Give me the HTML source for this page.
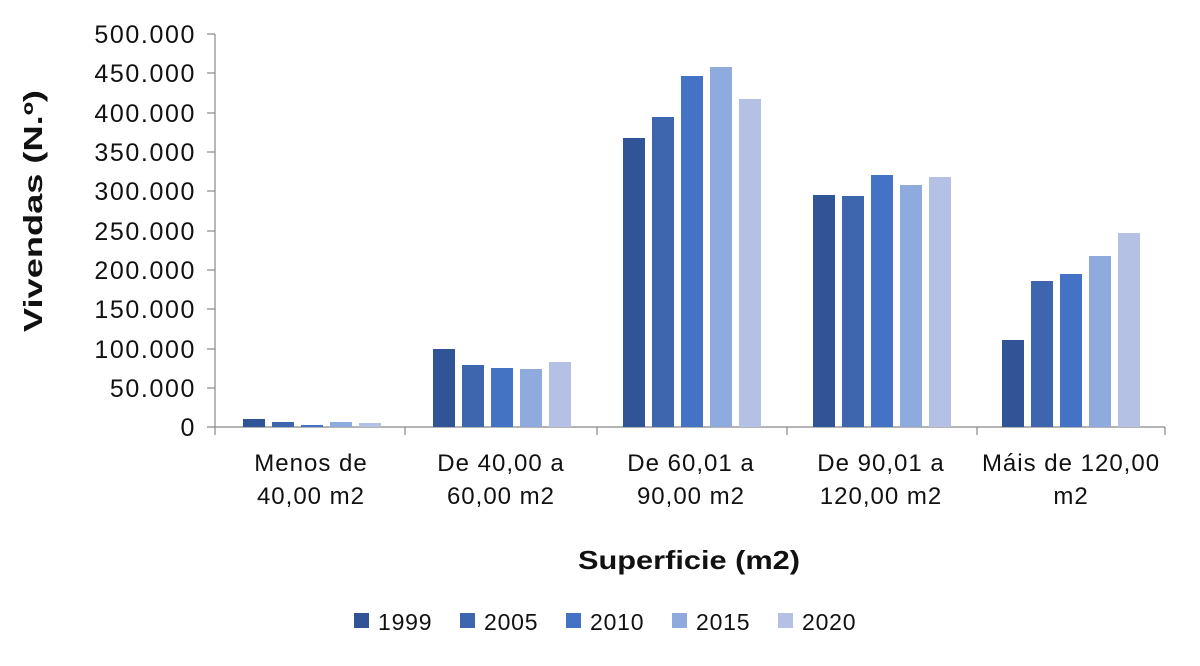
<!DOCTYPE html>
<html><head><meta charset="utf-8"><style>
html,body{margin:0;padding:0;background:#fff;}
svg{display:block;font-family:"Liberation Sans",sans-serif;}
</style></head><body>
<svg width="1200" height="666" viewBox="0 0 1200 666" xmlns="http://www.w3.org/2000/svg">
<g font-size="25" fill="#111" text-anchor="end" letter-spacing="1.6">
<text x="196" y="43">500.000</text>
<text x="196" y="82">450.000</text>
<text x="196" y="122">400.000</text>
<text x="196" y="161">350.000</text>
<text x="196" y="200">300.000</text>
<text x="196" y="240">250.000</text>
<text x="196" y="279">200.000</text>
<text x="196" y="318">150.000</text>
<text x="196" y="358">100.000</text>
<text x="196" y="397">50.000</text>
<text x="196" y="436">0</text>
</g>
<g stroke="#888" stroke-width="1.2">
<line x1="215" y1="34" x2="215" y2="427"/>
<line x1="207" y1="34" x2="215" y2="34"/><line x1="207" y1="73" x2="215" y2="73"/>
<line x1="207" y1="113" x2="215" y2="113"/><line x1="207" y1="152" x2="215" y2="152"/>
<line x1="207" y1="191" x2="215" y2="191"/><line x1="207" y1="231" x2="215" y2="231"/>
<line x1="207" y1="270" x2="215" y2="270"/><line x1="207" y1="309" x2="215" y2="309"/>
<line x1="207" y1="349" x2="215" y2="349"/><line x1="207" y1="388" x2="215" y2="388"/>
<line x1="207" y1="427" x2="1165" y2="427"/>
<line x1="215" y1="427" x2="215" y2="435"/><line x1="405" y1="427" x2="405" y2="435"/>
<line x1="597" y1="427" x2="597" y2="435"/><line x1="787" y1="427" x2="787" y2="435"/>
<line x1="977" y1="427" x2="977" y2="435"/><line x1="1165" y1="427" x2="1165" y2="435"/>
</g>
<g>
<rect x="243" y="419" width="22" height="8" fill="#305496"/>
<rect x="272" y="422" width="22" height="5" fill="#3d66ae"/>
<rect x="301" y="425" width="22" height="2" fill="#4472c4"/>
<rect x="330" y="422" width="22" height="5" fill="#8faadc"/>
<rect x="359" y="423" width="22" height="4" fill="#b4c1e4"/>
<rect x="433" y="349" width="22" height="78" fill="#305496"/>
<rect x="462" y="365" width="22" height="62" fill="#3d66ae"/>
<rect x="491" y="368" width="22" height="59" fill="#4472c4"/>
<rect x="520" y="369" width="22" height="58" fill="#8faadc"/>
<rect x="549" y="362" width="22" height="65" fill="#b4c1e4"/>
<rect x="623" y="138" width="22" height="289" fill="#305496"/>
<rect x="652" y="117" width="22" height="310" fill="#3d66ae"/>
<rect x="681" y="76" width="22" height="351" fill="#4472c4"/>
<rect x="710" y="67" width="22" height="360" fill="#8faadc"/>
<rect x="739" y="99" width="22" height="328" fill="#b4c1e4"/>
<rect x="813" y="195" width="22" height="232" fill="#305496"/>
<rect x="842" y="196" width="22" height="231" fill="#3d66ae"/>
<rect x="871" y="175" width="22" height="252" fill="#4472c4"/>
<rect x="900" y="185" width="22" height="242" fill="#8faadc"/>
<rect x="929" y="177" width="22" height="250" fill="#b4c1e4"/>
<rect x="1002" y="340" width="22" height="87" fill="#305496"/>
<rect x="1031" y="281" width="22" height="146" fill="#3d66ae"/>
<rect x="1060" y="274" width="22" height="153" fill="#4472c4"/>
<rect x="1089" y="256" width="22" height="171" fill="#8faadc"/>
<rect x="1118" y="233" width="22" height="194" fill="#b4c1e4"/>
</g>
<g font-size="24" fill="#111" text-anchor="middle" letter-spacing="1">
<text x="311" y="471">Menos de</text><text x="311" y="504">40,00 m2</text>
<text x="501" y="471">De 40,00 a</text><text x="501" y="504">60,00 m2</text>
<text x="691" y="471">De 60,01 a</text><text x="691" y="504">90,00 m2</text>
<text x="881" y="471">De 90,01 a</text><text x="881" y="504">120,00 m2</text>
<text x="1071" y="471">Máis de 120,00</text><text x="1071" y="504">m2</text>
</g>
<text x="578" y="569" font-size="26" font-weight="bold" fill="#111" textLength="222" lengthAdjust="spacingAndGlyphs">Superficie (m2)</text>
<text transform="translate(42,211) rotate(-90)" x="-121" y="0" font-size="26" font-weight="bold" fill="#111" textLength="242" lengthAdjust="spacingAndGlyphs">Vivendas (N.º)</text>
<g font-size="23" fill="#111" letter-spacing="0.8">
<rect x="354" y="613" width="15" height="15" fill="#305496"/><text x="378" y="630">1999</text>
<rect x="460" y="613" width="15" height="15" fill="#3d66ae"/><text x="484" y="630">2005</text>
<rect x="566" y="613" width="15" height="15" fill="#4472c4"/><text x="590" y="630">2010</text>
<rect x="672" y="613" width="15" height="15" fill="#8faadc"/><text x="696" y="630">2015</text>
<rect x="778" y="613" width="15" height="15" fill="#b4c1e4"/><text x="802" y="630">2020</text>
</g>
</svg>
</body></html>
